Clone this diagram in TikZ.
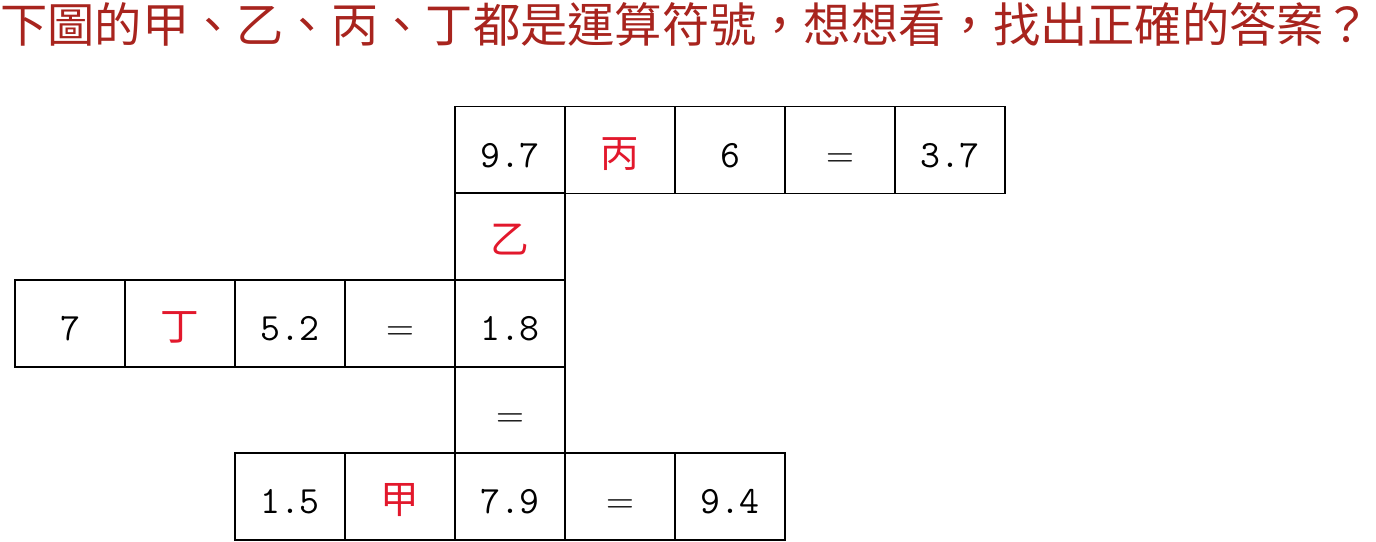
\documentclass[tikz,border=0pt]{standalone}
\usepackage{fontspec}
\newfontfamily\cjk{Noto Sans CJK TC}
\definecolor{titlered}{RGB}{168,36,30}
\definecolor{opred}{RGB}{226,24,44}
\tikzset{
  cell/.style={draw,line width=0.8pt,minimum width=2.2cm,minimum height=1.74cm,inner sep=0pt,
    text height=19.4pt,text depth=0pt,font=\ttfamily\fontsize{22}{22}\selectfont},
  opcell/.style={cell,text=opred,font=\cjk\fontsize{22}{22}\selectfont},
  eqcell/.style={cell,font=\rmfamily\fontsize{22}{22}\selectfont}
}
\begin{document}
\begin{tikzpicture}
  \useasboundingbox (0,0) rectangle (27.52,10.82);
  % 題目
  \node[anchor=west,inner sep=0pt,text=titlered,font=\cjk\fontsize{26.9}{26.9}\selectfont] (title) at (0,10.32)
    {下圖的甲、乙、丙、丁都是運算符號，想想看，找出正確的答案？};
  % 第一列（橫）
  \node[cell] (a1) at (10.2,7.82) {9.7};
  \node[opcell] (bing) at (12.4,7.82) {丙};
  \node[cell] (a3) at (14.6,7.82) {6};
  \node[eqcell] (a4) at (16.8,7.82) {=};
  \node[cell] (a5) at (19.0,7.82) {3.7};
  % 直行
  \node[opcell] (yi) at (10.2,6.09) {乙};
  % 第二列（橫）
  \node[cell] (b1) at (1.4,4.35) {7};
  \node[opcell] (ding) at (3.6,4.35) {丁};
  \node[cell] (b3) at (5.8,4.35) {5.2};
  \node[eqcell] (b4) at (8.0,4.35) {=};
  \node[cell] (b5) at (10.2,4.35) {1.8};
  % 直行
  \node[eqcell] (eq) at (10.2,2.62) {=};
  % 第三列（橫）
  \node[cell] (c1) at (5.8,0.89) {1.5};
  \node[opcell] (jia) at (8.0,0.89) {甲};
  \node[cell] (c3) at (10.2,0.89) {7.9};
  \node[eqcell] (c4) at (12.4,0.89) {=};
  \node[cell] (c5) at (14.6,0.89) {9.4};
\end{tikzpicture}
\end{document}
